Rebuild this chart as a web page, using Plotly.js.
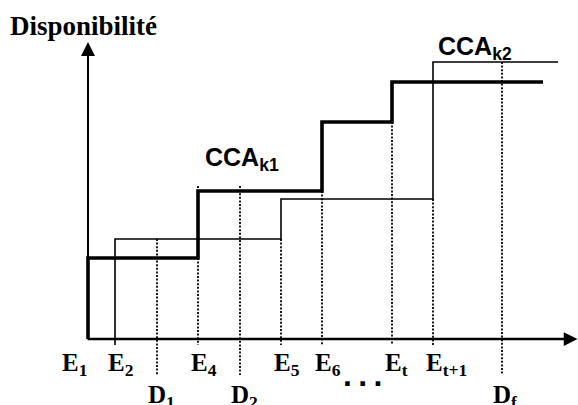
<!DOCTYPE html>
<html>
<head>
<meta charset="utf-8">
<script src="https://cdn.plot.ly/plotly-3.0.1.min.js"></script>
<style>html,body{margin:0;padding:0;background:#fff;}#chart{width:578px;height:405px;}</style>
</head>
<body>
<div id="chart"></div>
<script>
// Time positions of events (arbitrary time units, origin = E1)
const eventNames = ['E1', 'E2', 'E4', 'E5', 'E6', 'Et', 'Et+1'];
const eventX     = [0, 27, 110, 193, 234, 304, 345];
const eventLabels = ['E<sub>1</sub>', 'E<sub>2</sub>', 'E<sub>4</sub>', 'E<sub>5</sub>', 'E<sub>6</sub>', 'E<sub>t</sub>', 'E<sub>t+1</sub>'];
const deadlineX  = [69, 152, 414];
const deadlineLabels = ['D<sub>1</sub>', 'D<sub>2</sub>', 'D<sub>f</sub>'];

// Availability step curve CCA_k1 (thick)
const k1Time  = [0, 0, 110, 234, 304, 455];
const k1Avail = [0, 81, 148, 217, 257, 257];
// Availability step curve CCA_k2 (thin)
const k2Time  = [27, 27, 193, 345, 470];
const k2Avail = [-6, 100, 140, 277, 277];

// Dotted guide lines: x, top, bottom
const guideX      = [69, 110, 152, 193, 234, 304, 345, 414];
const guideTop    = [100, 153, 153, 100, 148, 217, 140, 277];
const guideBottom = [-36, -6, -36, -6, -6, -6, -6, -36];

const axisEndX = 490;
const axisEndY = 297;

const gx = [], gy = [];
guideX.forEach((x, i) => { gx.push(x, x, null); gy.push(guideTop[i], guideBottom[i], null); });

const traces = [
  {x: gx, y: gy, mode: 'lines', line: {color: '#000', width: 1.8, dash: '2px,1.6px'}, hoverinfo: 'skip'},
  {x: k2Time, y: k2Avail, mode: 'lines', line: {color: '#000', width: 1.6, shape: 'hv'}, hoverinfo: 'skip'},
  {x: k1Time, y: k1Avail, mode: 'lines', line: {color: '#000', width: 3.6, shape: 'hv'}, hoverinfo: 'skip'}
];

const serif = {family: 'Liberation Serif, Times New Roman, serif', size: 25, color: '#000', weight: 'bold'};
const sans = {family: 'Liberation Sans, Arial, sans-serif', size: 25, color: '#000', weight: 'bold'};

const annotations = [];
// axes with arrows
annotations.push({x: 0, y: axisEndY, ax: 0, ay: 0, xref: 'x', yref: 'y', axref: 'x', ayref: 'y', text: '', showarrow: true, arrowhead: 2, arrowsize: 1.4, arrowwidth: 2, arrowcolor: '#000'});
annotations.push({x: axisEndX - 0.5, y: 0, ax: -2, ay: 0, xref: 'x', yref: 'y', axref: 'x', ayref: 'y', text: '', showarrow: true, arrowhead: 2, arrowsize: 1.1, arrowwidth: 2.5, arrowcolor: '#000'});

eventLabels.forEach((t, i) => {
  annotations.push({x: eventX[i], y: 0, xref: 'x', yref: 'y', text: '<b>' + t + '</b>', showarrow: false,
    xanchor: i === 0 ? 'right' : 'left', yanchor: 'top', xshift: i === 0 ? 1 : -9, yshift: -8, font: serif});
});
deadlineLabels.forEach((t, i) => {
  annotations.push({x: deadlineX[i], y: 0, xref: 'x', yref: 'y', text: '<b>' + t + '</b>', showarrow: false,
    xanchor: 'left', yanchor: 'top', xshift: -11, yshift: -40, font: serif});
});
annotations.push({x: 274, y: 0, xref: 'x', yref: 'y', text: '<b>.\u2009.\u2009.</b>', showarrow: false, xanchor: 'center', yanchor: 'top', yshift: -16, font: {family: 'Liberation Sans, Arial, sans-serif', size: 32, color: '#000'}});
annotations.push({x: k1Time[2] + 5, y: k1Avail[2], xref: 'x', yref: 'y', text: '<b>CCA<sub>k1</sub></b>', showarrow: false, xanchor: 'left', yanchor: 'bottom', yshift: 14, font: sans});
annotations.push({x: k2Time[3] + 3, y: k2Avail[3], xref: 'x', yref: 'y', text: '<b>CCA<sub>k2</sub></b>', showarrow: false, xanchor: 'left', yanchor: 'bottom', yshift: -4, font: sans});

const layout = {
  width: 578, height: 405,
  margin: {l: 0, r: 0, t: 0, b: 0},
  paper_bgcolor: '#fff', plot_bgcolor: '#fff',
  showlegend: false,
  title: {text: 'Disponibilité', x: 10/578, xanchor: 'left', xref: 'container', y: 1 - 16/405, yanchor: 'top', yref: 'container',
          font: {family: 'Liberation Serif, Times New Roman, serif', size: 27, color: '#000', weight: 'bold'}},
  xaxis: {range: [-88, 490], visible: false, fixedrange: true},
  yaxis: {range: [-66, 339], visible: false, fixedrange: true},
  annotations: annotations
};

Plotly.newPlot('chart', traces, layout, {staticPlot: true, displayModeBar: false});
</script>
</body>
</html>
